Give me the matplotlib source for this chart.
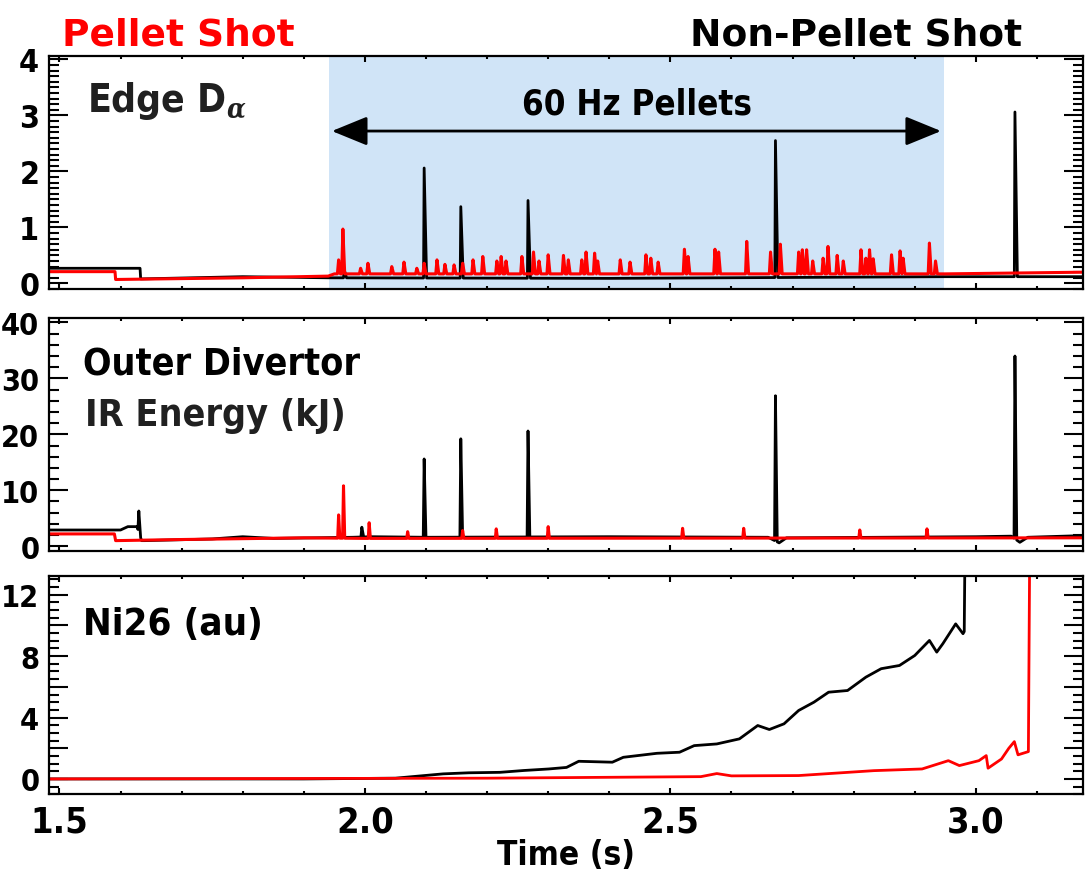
import numpy as np
import matplotlib.pyplot as plt
from matplotlib.ticker import MultipleLocator

plt.rcParams['font.family'] = ['DejaVu Sans']
plt.rcParams['font.stretch'] = 'condensed'
plt.rcParams['font.weight'] = 'bold'
plt.rcParams['axes.labelweight'] = 'bold'
plt.rcParams['mathtext.fontset'] = 'dejavuserif'

XLIM = (1.483, 3.175)

# ---- panel 1: edge D-alpha (base level + spikes) ----
da_blk_t = [1.483, 1.632, 1.633, 1.80, 1.94, 2.40, 2.95, 3.175]
da_blk_v = [0.27, 0.27, 0.08, 0.12, 0.10, 0.09, 0.12, 0.12]
da_blk_spk_t = [1.966, 2.097, 2.157, 2.267, 2.672, 3.064]
da_blk_spk_v = [0.25, 2.06, 1.37, 1.48, 2.55, 3.06]

da_red_t = [1.483, 1.591, 1.592, 1.80, 1.94, 1.95, 2.95, 3.175]
da_red_v = [0.21, 0.21, 0.07, 0.10, 0.13, 0.17, 0.17, 0.20]
da_red_spk_t = [1.957, 1.964, 1.993, 2.005, 2.044, 2.064, 2.085, 2.097, 2.118, 2.131,
                2.146, 2.160, 2.177, 2.193, 2.216, 2.223, 2.231, 2.257, 2.276, 2.285,
                2.300, 2.325, 2.333, 2.355, 2.362, 2.376, 2.381, 2.418, 2.434, 2.460,
                2.468, 2.480, 2.523, 2.529, 2.573, 2.579, 2.625, 2.664, 2.680, 2.710,
                2.716, 2.723, 2.733, 2.750, 2.758, 2.773, 2.783, 2.812, 2.820, 2.826,
                2.832, 2.862, 2.876, 2.881, 2.924, 2.934]
da_red_spk_v = [0.42, 0.97, 0.27, 0.36, 0.30, 0.38, 0.27, 0.36, 0.42, 0.34,
                0.33, 0.36, 0.42, 0.48, 0.40, 0.48, 0.40, 0.48, 0.56, 0.40,
                0.51, 0.50, 0.42, 0.42, 0.56, 0.54, 0.40, 0.42, 0.38, 0.51,
                0.45, 0.38, 0.61, 0.48, 0.61, 0.56, 0.75, 0.56, 0.70, 0.56,
                0.60, 0.60, 0.40, 0.45, 0.66, 0.50, 0.40, 0.60, 0.45, 0.60,
                0.44, 0.51, 0.58, 0.45, 0.72, 0.40]

# ---- panel 2: outer divertor IR energy (kJ) ----
ir_blk_t = [1.483, 1.600, 1.612, 1.627, 1.6345, 1.64, 1.75, 1.80, 1.85, 1.98, 2.01,
            2.10, 2.40, 2.66, 2.678, 2.69, 3.00, 3.058, 3.072, 3.085, 3.175]
ir_blk_v = [2.9, 2.9, 3.5, 3.5, 1.0, 1.0, 1.3, 1.7, 1.4, 1.6, 1.7,
            1.6, 1.7, 1.6, 0.6, 1.5, 1.7, 1.8, 0.7, 1.6, 1.9]
ir_blk_spk_t = [1.630, 1.995, 2.097, 2.157, 2.267, 2.672, 3.064]
ir_blk_spk_v = [6.3, 3.4, 15.6, 19.2, 20.6, 26.9, 34.0]

ir_red_t = [1.483, 1.590, 1.592, 1.70, 1.90, 2.00, 3.175]
ir_red_v = [2.2, 2.2, 1.0, 1.2, 1.5, 1.4, 1.5]
ir_red_spk_t = [1.957, 1.965, 2.007, 2.07, 2.16, 2.215, 2.30, 2.52, 2.62, 2.81, 2.92]
ir_red_spk_v = [5.6, 10.8, 4.2, 2.6, 2.8, 3.1, 3.5, 3.2, 3.2, 2.9, 3.1]

# ---- panel 3: Ni26 (au) ----
ni_blk_t = [1.483, 1.90, 2.05, 2.128, 2.17, 2.221, 2.26, 2.301, 2.330, 2.350, 2.405,
            2.423, 2.478, 2.515, 2.539, 2.576, 2.613, 2.643, 2.662, 2.686, 2.710,
            2.735, 2.759, 2.790, 2.820, 2.845, 2.875, 2.900, 2.924, 2.936, 2.946,
            2.967, 2.979, 2.981, 2.982]
ni_blk_v = [0.0, 0.0, 0.05, 0.33, 0.40, 0.43, 0.55, 0.65, 0.75, 1.15, 1.09,
            1.41, 1.67, 1.74, 2.17, 2.28, 2.61, 3.48, 3.22, 3.59, 4.46,
            5.0, 5.65, 5.76, 6.63, 7.18, 7.39, 8.04, 9.02, 8.26, 8.81,
            10.1, 9.46, 9.6, 14.0]
ni_red_t = [1.483, 2.20, 2.55, 2.576, 2.60, 2.71, 2.833, 2.912, 2.955, 2.973,
            3.005, 3.017, 3.020, 3.042, 3.054, 3.063, 3.069, 3.086, 3.088]
ni_red_v = [0.0, 0.05, 0.15, 0.35, 0.20, 0.22, 0.54, 0.65, 1.19, 0.87,
            1.19, 1.52, 0.70, 1.30, 2.0, 2.43, 1.57, 1.78, 14.0]

pellet_window = (1.941, 2.948)
arrow_ends = (1.946, 2.943)


def with_spikes(bt, bv, st, sv, rise, fall):
    t = list(bt)
    v = list(bv)
    for ti, vi in zip(st, sv):
        feet = np.interp([ti - rise, ti + fall], bt, bv)
        t += [ti - rise, ti, ti + fall]
        v += [feet[0], vi, feet[1]]
    order = np.argsort(t, kind='stable')
    return np.array(t)[order], np.array(v)[order]


def style_axis(ax, ylim, major, minor, ysize):
    ax.set_xlim(*XLIM)
    ax.set_ylim(*ylim)
    ax.xaxis.set_major_locator(MultipleLocator(0.5))
    ax.xaxis.set_minor_locator(MultipleLocator(0.1))
    ax.yaxis.set_major_locator(MultipleLocator(major))
    ax.yaxis.set_minor_locator(MultipleLocator(minor))
    ax.tick_params(direction='in', top=True, right=True, which='both', width=1.5)
    ax.tick_params(axis='y', which='major', length=14, labelsize=ysize, pad=7)
    ax.tick_params(axis='y', which='minor', length=7)
    ax.tick_params(axis='x', which='major', length=4, labelsize=26, pad=7)
    ax.tick_params(axis='x', which='minor', length=2.5)
    for s in ax.spines.values():
        s.set_linewidth(1.6)


fig = plt.figure(figsize=(10.87, 8.78), dpi=100)
ax1 = fig.add_axes([0.0451, 0.6697, 0.9510, 0.2654])
ax2 = fig.add_axes([0.0451, 0.3710, 0.9510, 0.2657])
ax3 = fig.add_axes([0.0451, 0.0942, 0.9510, 0.2483])

# panel 1
ax1.axvspan(*pellet_window, color='#d0e4f7', lw=0, zorder=0)
t, v = with_spikes(da_blk_t, da_blk_v, da_blk_spk_t, da_blk_spk_v, 0.001, 0.004)
ax1.plot(t, v, color='k', lw=2.0)
t, v = with_spikes(da_red_t, da_red_v, da_red_spk_t, da_red_spk_v, 0.002, 0.003)
ax1.plot(t, v, color='#ff0000', lw=2.2)
style_axis(ax1, (-0.1, 4.06), 1, 0.1, 23)
ax1.tick_params(axis='x', labelbottom=False)
ax1.annotate('', xy=(arrow_ends[0], 2.72), xytext=(arrow_ends[1], 2.72),
             arrowprops=dict(arrowstyle='<|-|>,head_length=1.1,head_width=0.45',
                             color='k', lw=2, mutation_scale=20,
                             shrinkA=0, shrinkB=0))
ax1.text(2.446, 3.22, '60 Hz Pellets', ha='center', va='center', fontsize=25)
ax1.text(0.037, 0.765, r'Edge D$_{\alpha}$', transform=ax1.transAxes,
         fontsize=28, color='#202020', va='baseline')

# panel 2
t, v = with_spikes(ir_blk_t, ir_blk_v, ir_blk_spk_t, ir_blk_spk_v, 0.0015, 0.003)
ax2.plot(t, v, color='k', lw=2.0)
t, v = with_spikes(ir_red_t, ir_red_v, ir_red_spk_t, ir_red_spk_v, 0.0015, 0.002)
ax2.plot(t, v, color='#ff0000', lw=2.2)
style_axis(ax2, (-0.9, 40.8), 10, 2, 22)
ax2.tick_params(axis='x', labelbottom=False)
ax2.text(0.033, 0.76, 'Outer Divertor', transform=ax2.transAxes,
         fontsize=27, va='baseline')
ax2.text(0.035, 0.541, 'IR Energy (kJ)', transform=ax2.transAxes,
         fontsize=27, color='#202020', va='baseline')

# panel 3
ax3.plot(ni_blk_t, ni_blk_v, color='k', lw=2.0)
ax3.plot(ni_red_t, ni_red_v, color='#ff0000', lw=2.0)
style_axis(ax3, (-1.0, 13.2), 2, 0.5, 22)
ax3.set_yticks([0, 2, 4, 6, 8, 10, 12])
ax3.set_yticklabels(['0', '', '4', '', '8', '', '12'])
ax3.xaxis.set_major_formatter(plt.FormatStrFormatter('%.1f'))
ax3.set_xlabel('Time (s)', fontsize=24, labelpad=0)
ax3.text(0.033, 0.735, 'Ni26 (au)', transform=ax3.transAxes,
         fontsize=27.5, va='baseline')

fig.text(0.164, 0.948, 'Pellet Shot', color='#ff0000', fontsize=27,
         family='DejaVu Sans', stretch='normal', ha='center', va='baseline')
fig.text(0.788, 0.948, 'Non-Pellet Shot', color='k', fontsize=27,
         family='DejaVu Sans', stretch='normal', ha='center', va='baseline')

fig.savefig('out.png', dpi=100)
